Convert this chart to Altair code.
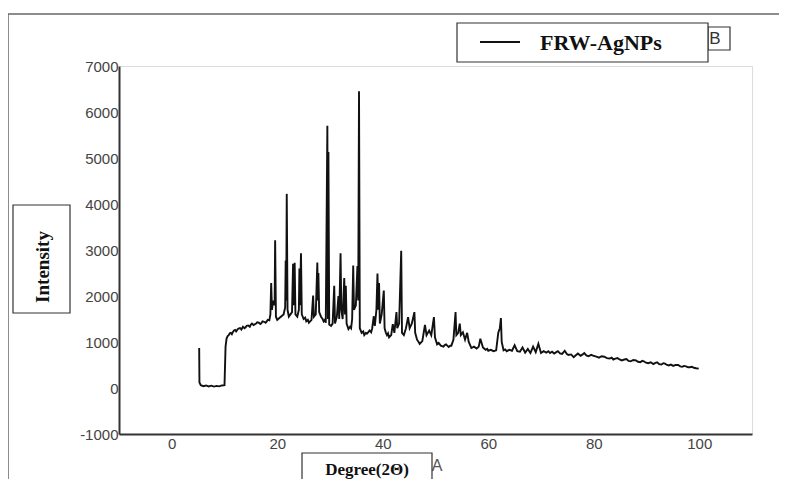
import altair as alt
import pandas as pd

# ---- data (2θ in degrees, intensity in counts) ----
seg_onset = [
    (5.2, 870), (5.25, 120), (5.5, 60), (6.0, 40), (6.5, 55), (7.0, 35), (7.5, 50),
    (8.0, 30), (8.5, 45), (9.0, 35), (9.5, 55), (10.0, 60), (10.2, 900), (10.4, 1080),
    (10.6, 1130), (10.8, 1150), (11.0, 1190), (11.2, 1200), (11.4, 1170), (11.6, 1220),
    (11.8, 1250), (12.0, 1260), (12.2, 1230), (12.5, 1280), (12.8, 1300), (13.0, 1300),
    (13.2, 1270), (13.5, 1330), (13.8, 1300), (14.0, 1320), (14.2, 1350), (14.5, 1360),
    (14.8, 1330), (15.0, 1380), (15.2, 1400), (15.5, 1370), (15.8, 1390), (16.0, 1400),
    (16.2, 1430), (16.5, 1420), (16.8, 1390), (17.0, 1410), (17.2, 1450), (17.5, 1440),
    (17.8, 1420), (18.0, 1450), (18.2, 1480), (18.5, 1470),
]
seg_peaks_a = [
    (18.7, 1600), (18.85, 2280), (19.0, 1700), (19.2, 1900), (19.5, 1800), (19.6, 3210),
    (19.75, 1550), (20.0, 1480), (20.4, 1520), (20.8, 1560), (21.2, 1600), (21.5, 1750),
    (21.6, 2770), (21.7, 1900), (21.8, 4220), (21.95, 1700), (22.2, 1550), (22.5, 1600),
    (22.8, 1650), (23.0, 2700), (23.15, 1800), (23.3, 2720), (23.45, 1600), (23.8, 1550),
    (24.1, 1700), (24.2, 2600), (24.3, 1800), (24.5, 2930), (24.65, 1600), (25.0, 1500),
    (25.3, 1530), (25.5, 1450), (25.8, 1480), (26.0, 1420), (26.5, 1480), (26.8, 2010),
    (26.95, 1550), (27.3, 1600), (27.6, 2730), (27.7, 1900), (27.8, 2500), (27.95, 1650),
    (28.3, 1550), (28.6, 1500), (28.8, 1450), (29.0, 1480), (29.2, 1420), (29.5, 5700),
    (29.6, 1500), (29.7, 5130), (29.85, 1380),
]
seg_peaks_b = [
    (30.2, 1350), (30.5, 1400), (30.8, 2220), (30.95, 1400), (31.3, 1550), (31.6, 2000),
    (31.75, 1500), (32.0, 2930), (32.15, 1700), (32.4, 1500), (32.7, 2390), (32.85, 1600),
    (33.0, 2220), (33.15, 1400), (33.5, 1280), (33.8, 1330), (34.0, 1300), (34.2, 1500),
    (34.4, 2660), (34.55, 1700), (34.9, 1800), (35.2, 2650), (35.35, 1900), (35.5, 6450),
    (35.65, 1300), (36.0, 1200), (36.3, 1230), (36.5, 1150), (36.8, 1200), (37.0, 1180),
    (37.3, 1220), (37.5, 1250), (37.8, 1210), (38.0, 1300), (38.3, 1560), (38.5, 1350),
    (38.8, 1700), (39.0, 2490), (39.15, 1700), (39.3, 2280), (39.45, 1400), (39.8, 1600),
    (40.2, 2120), (40.35, 1300), (40.6, 1200), (40.8, 1150), (41.0, 1190), (41.2, 1100),
    (41.6, 1150), (41.9, 1390), (42.2, 1200), (42.6, 1650), (42.75, 1300), (43.1, 1400),
    (43.5, 2985), (43.65, 1200), (44.0, 1150), (44.4, 1300), (44.8, 1540), (45.1, 1300),
    (45.5, 1400), (46.0, 1650), (46.15, 1200), (46.5, 1050), (46.8, 1000), (47.0, 960),
    (47.5, 1020), (48.0, 1370), (48.3, 1150), (48.8, 1250), (49.2, 1150), (49.7, 1540),
    (49.9, 1100),
]
seg_mid = [
    (50.3, 950), (50.6, 980), (51.0, 920), (51.5, 900), (51.8, 940), (52.0, 950),
    (52.5, 890), (52.8, 920), (53.0, 920), (53.4, 1050), (53.8, 1650), (53.95, 1150),
    (54.3, 1200), (54.6, 1400), (54.8, 1150), (55.2, 1210), (55.6, 1050), (56.0, 1200),
    (56.3, 1000), (56.8, 870), (57.3, 900), (57.8, 860), (58.2, 900), (58.5, 1070),
    (59.0, 880), (59.5, 830), (59.8, 850), (60.0, 810), (60.5, 830), (61.0, 800),
    (61.5, 820), (61.9, 1200), (62.2, 1300), (62.4, 1520), (62.55, 1000), (62.9, 820),
    (63.2, 840), (63.5, 800), (64.0, 830), (64.5, 810), (65.0, 930), (65.5, 800),
    (66.0, 790), (66.5, 880), (67.0, 770), (67.5, 850), (68.0, 760), (68.5, 900),
    (69.0, 780), (69.5, 960), (70.0, 760),
]
seg_tail = [
    (70.5, 800), (71.0, 770), (71.4, 800), (71.7, 760), (72.1, 790), (72.5, 750),
    (72.9, 780), (73.2, 800), (73.6, 750), (74.0, 740), (74.5, 810), (74.9, 740),
    (75.2, 720), (75.7, 730), (76.2, 670), (76.6, 710), (77.0, 750), (77.5, 700),
    (77.9, 730), (78.2, 760), (78.6, 710), (79.0, 690), (79.5, 720), (80.0, 700),
    (80.5, 680), (81.0, 660), (81.5, 690), (82.0, 680), (82.5, 650), (83.0, 640),
    (83.4, 660), (83.7, 620), (84.1, 640), (84.5, 650), (84.9, 620), (85.3, 600),
    (85.8, 620), (86.2, 630), (86.6, 590), (87.0, 580), (87.5, 610), (88.0, 600),
    (88.4, 570), (88.8, 560), (89.2, 590), (89.5, 580), (89.9, 550), (90.3, 540),
    (90.8, 560), (91.3, 520), (91.6, 540), (92.0, 560), (92.4, 520), (92.8, 510),
    (93.2, 540), (93.5, 530), (93.9, 500), (94.2, 490), (94.6, 510), (95.1, 480),
    (95.5, 500), (96.0, 500), (96.4, 470), (96.8, 460), (97.1, 480), (97.5, 470),
    (97.9, 450), (98.2, 450), (98.6, 460), (99.0, 440), (99.4, 430), (99.9, 420),
]

x_ticks = [0, 20, 40, 60, 80, 100]
y_ticks = [-1000, 0, 1000, 2000, 3000, 4000, 5000, 6000, 7000]
legend_label = "FRW-AgNPs"
x_title = "Degree(2\u0398)"
y_title = "Intensity"

points = seg_onset + seg_peaks_a + seg_peaks_b + seg_mid + seg_tail
df = pd.DataFrame(points, columns=["theta", "intensity"])
df["idx"] = range(len(df))

W, H = 633, 368

line = alt.Chart(df).mark_line(color="#111111", strokeWidth=1.9).encode(
    x=alt.X("theta:Q",
            scale=alt.Scale(domain=[-10, 110], nice=False, zero=False),
            axis=alt.Axis(values=x_ticks, title=None, ticks=False, grid=False,
                          domainColor="#333333", domainWidth=2,
                          labelFont="Liberation Sans", labelFontSize=15,
                          labelColor="#444444", labelPadding=2)),
    y=alt.Y("intensity:Q",
            scale=alt.Scale(domain=[-1000, 7000], nice=False, zero=False),
            axis=alt.Axis(values=y_ticks, labelExpr="'' + datum.value",
                          title=None, ticks=False, grid=False,
                          domainColor="#333333", domainWidth=2,
                          labelFont="Liberation Sans", labelFontSize=15,
                          labelColor="#444444", labelPadding=1)),
    order="idx:Q",
)

one = pd.DataFrame({"k": [0]})
base = alt.Chart(one)

frame_top = base.mark_rule(color="#666666", strokeWidth=1.5).encode(
    x=alt.value(-111), x2=alt.value(700), y=alt.value(-52))
frame_left = base.mark_rule(color="#666666", strokeWidth=1.5).encode(
    x=alt.value(-111), y=alt.value(-52), y2=alt.value(460))

b_box = base.mark_rect(fill="white", stroke="#333333", strokeWidth=1.2).encode(
    x=alt.value(589), x2=alt.value(611), y=alt.value(-39), y2=alt.value(-16))
b_text = base.mark_text(text="B", font="Liberation Sans", fontSize=17, color="#333333",
                        align="center", baseline="middle").encode(
    x=alt.value(596), y=alt.value(-27))

legend_box = base.mark_rect(fill="white", stroke="#333333", strokeWidth=1.2).encode(
    x=alt.value(338), x2=alt.value(589), y=alt.value(-43), y2=alt.value(-4))
legend_line = base.mark_rule(color="#111111", strokeWidth=2).encode(
    x=alt.value(361), x2=alt.value(401), y=alt.value(-24))
legend_text = base.mark_text(text=legend_label, font="Liberation Serif", fontSize=22,
                             fontWeight="bold", color="#111111",
                             align="left", baseline="middle").encode(
    x=alt.value(421), y=alt.value(-23))

y_box = base.mark_rect(fill="white", stroke="#333333", strokeWidth=1.2).encode(
    x=alt.value(-106), x2=alt.value(-49), y=alt.value(139), y2=alt.value(247))
y_text = base.mark_text(text=y_title, font="Liberation Serif", fontSize=19,
                        fontWeight="bold", color="#111111", angle=270,
                        align="center", baseline="middle").encode(
    x=alt.value(-76), y=alt.value(201))

a_text = base.mark_text(text="A", font="Liberation Sans", fontSize=16, color="#555555",
                        align="center", baseline="middle").encode(
    x=alt.value(318), y=alt.value(400))
x_box = base.mark_rect(fill="white", stroke="#333333", strokeWidth=1.2).encode(
    x=alt.value(183), x2=alt.value(313), y=alt.value(387), y2=alt.value(440))
x_text = base.mark_text(text=x_title, font="Liberation Serif", fontSize=17,
                        fontWeight="bold", color="#111111",
                        align="center", baseline="middle").encode(
    x=alt.value(248), y=alt.value(404))

chart = alt.layer(
    line, frame_top, frame_left, b_box, b_text, legend_box, legend_line, legend_text,
    y_box, y_text, a_text, x_box, x_text,
).properties(
    width=W, height=H,
    autosize=alt.AutoSizeParams(type="none"),
    padding={"left": 111, "top": 58, "right": 27, "bottom": 45},
).configure_view(strokeWidth=0).configure(background="white")

chart.save("out.html", embed_options={"renderer": "svg", "actions": False})
